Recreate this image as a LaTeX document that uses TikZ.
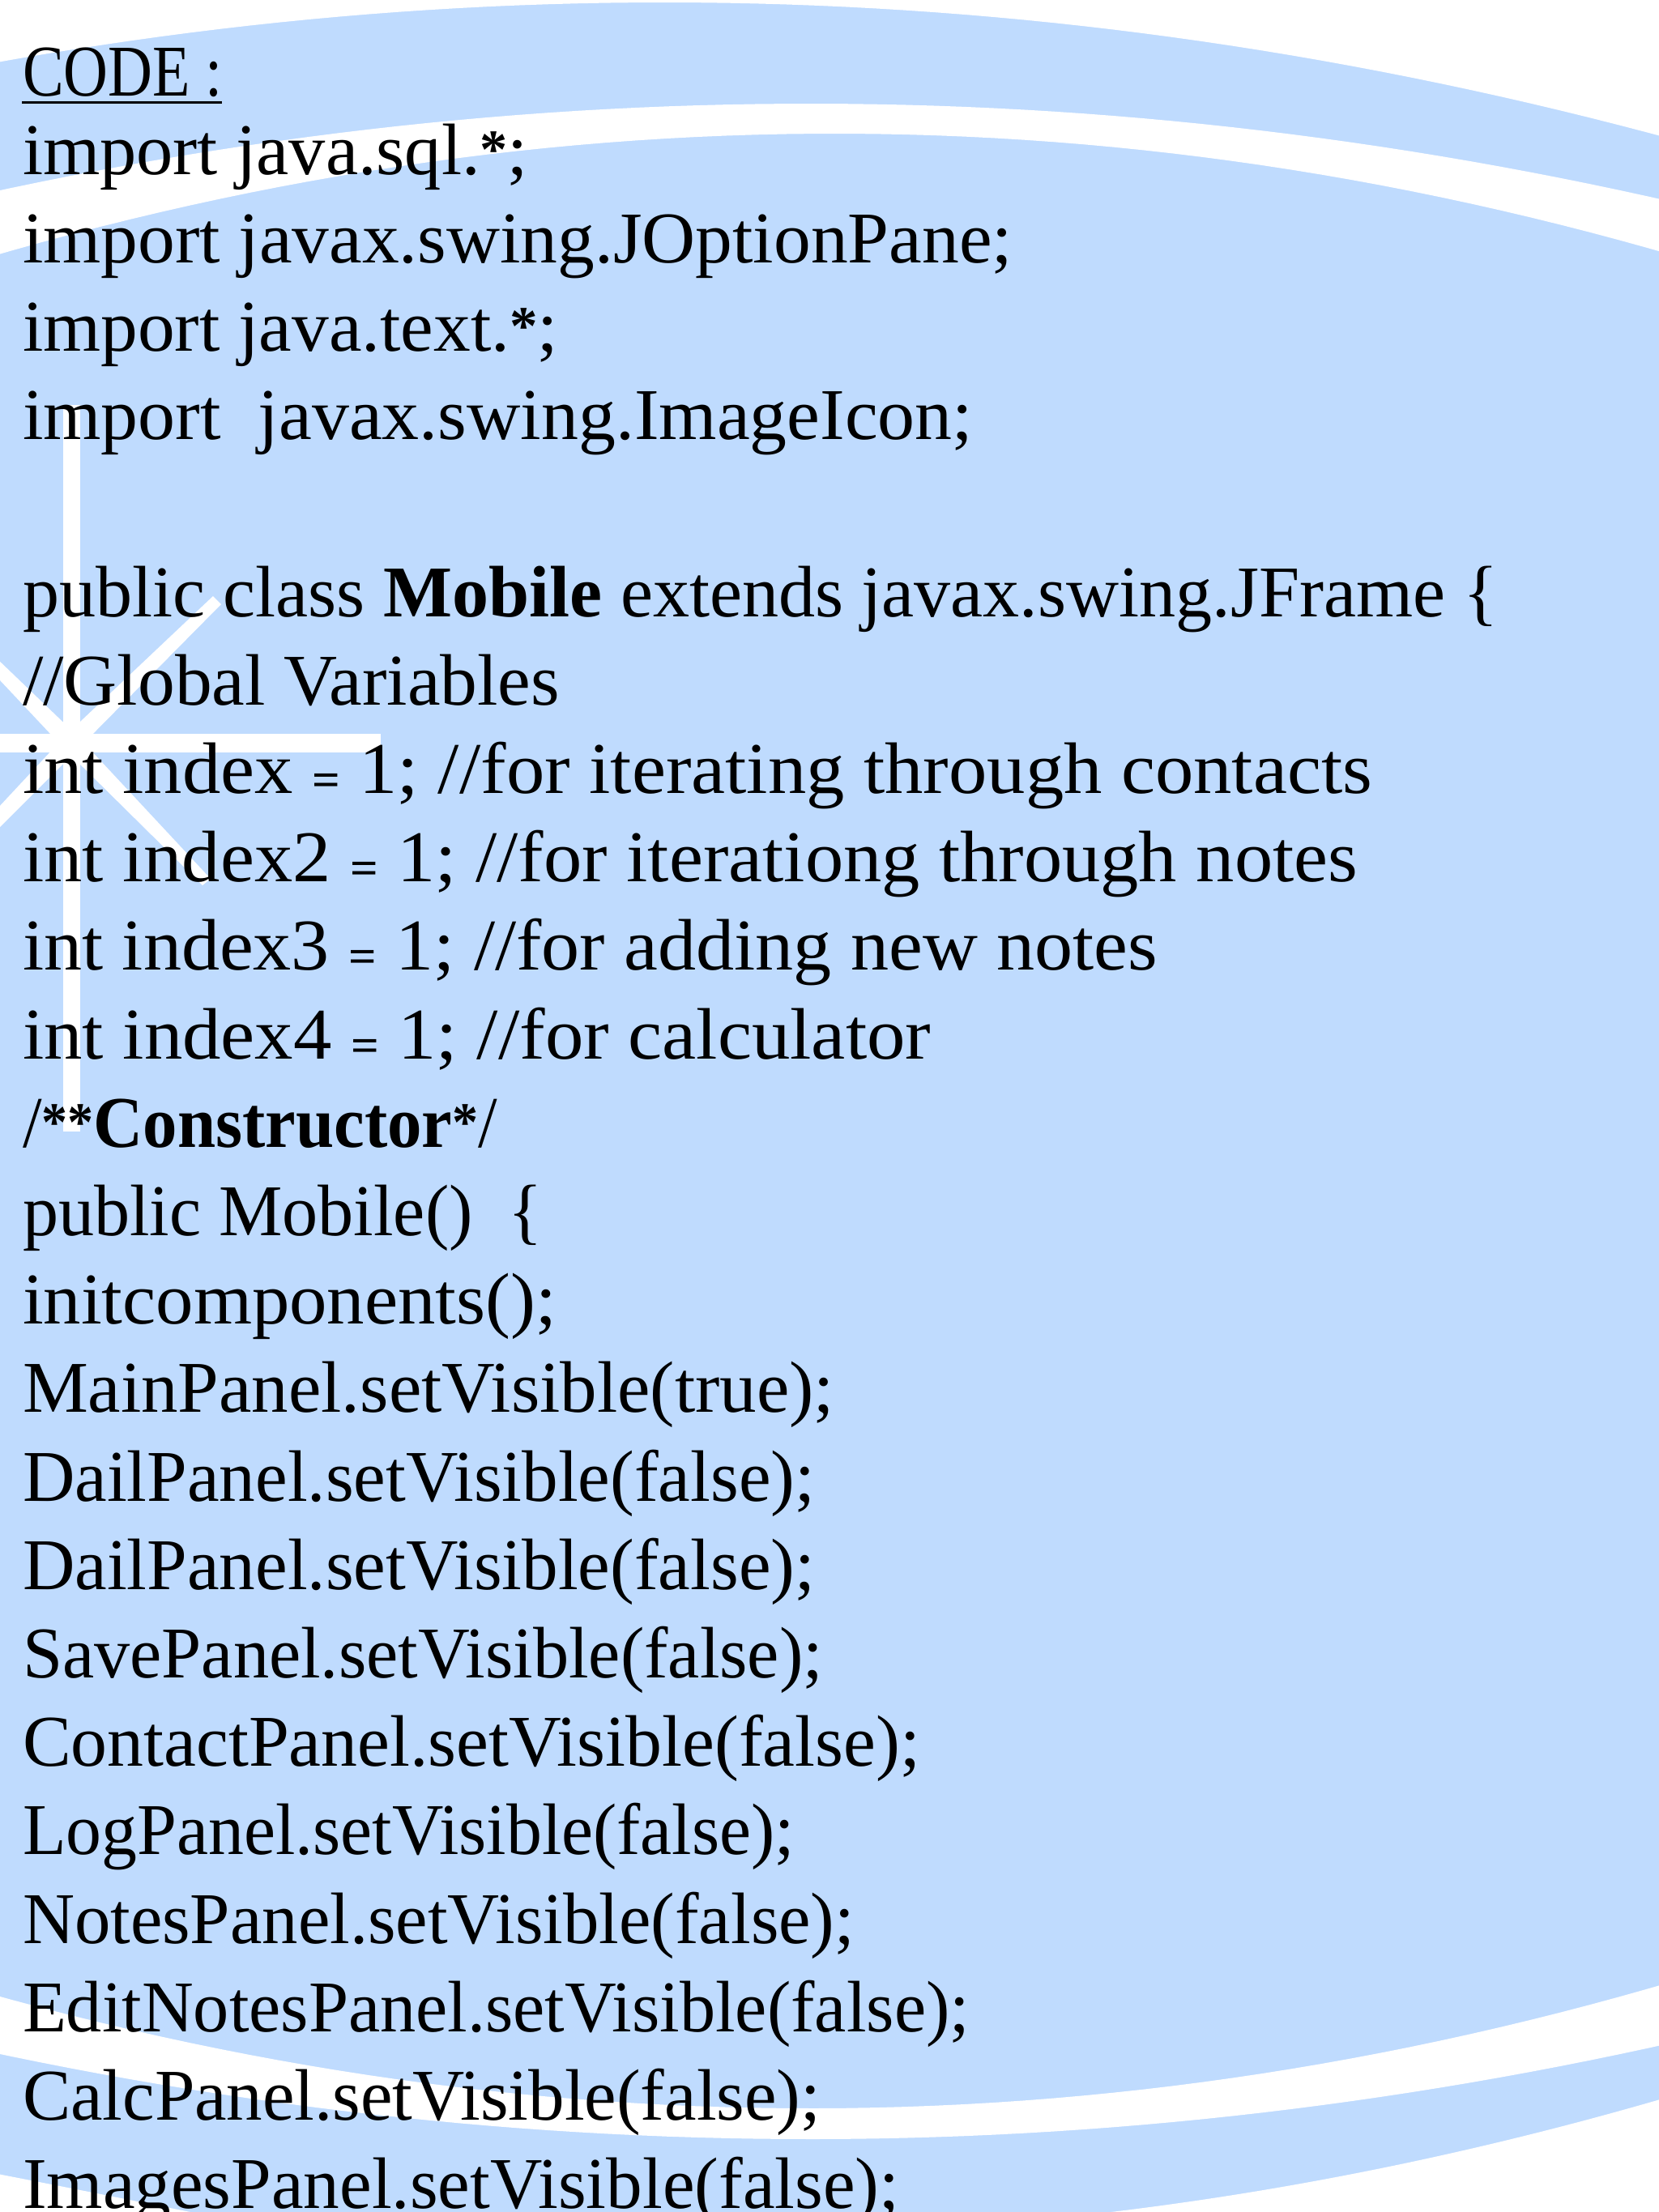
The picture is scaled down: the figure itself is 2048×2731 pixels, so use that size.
\documentclass[tikz,border=0pt]{standalone}
\usepackage{graphicx}
\usepackage{fontspec}
\setmainfont{Liberation Serif}
\definecolor{skyblue}{RGB}{191,219,254}
\newcommand{\eqs}{\raisebox{-3pt}{\fontsize{58}{58}\selectfont\bfseries =}}
\newcommand{\smallast}{\raisebox{8pt}{\fontsize{68}{68}\selectfont\bfseries *}}
\newcommand{\codeline}[4]{\node[codetext] (#1) at (28,#2) {\resizebox{#3pt}{\height}{#4}};}
\newcommand{\gapsp}{\hspace{0.5em}}
\begin{document}
\begin{tikzpicture}[x=1pt,y=-1pt,
  codetext/.style={anchor=base west,inner sep=0pt,outer sep=0pt,text=black,font=\fontsize{90}{90}\selectfont},
  starray/.style={fill=white,draw=none},
  curve/.style={domain=-60:2110,samples=60}]
\useasboundingbox (0,0) rectangle (2048,2731);
% blue ground
\fill[skyblue] (0,0) rectangle (2048,2731);
% white cap above the top arc
\fill[white] plot[curve] (\x,{3+1.09*((\x-820)/100)^2}) -- (2110,-10) -- (-60,-10) -- cycle;
% upper white band
\fill[white] plot[curve] (\x,{128+1.07*((\x-1000)/100)^2})
  -- plot[curve,domain=2110:-60] (\x,{165+1.4*((\x-1030)/100)^2}) -- cycle;
% lower white band
\fill[white] plot[curve] (\x,{2603-1.38*((\x-1000)/100)^2})
  -- plot[curve,domain=2110:-60] (\x,{2641-1.05*((\x-1000)/100)^2}) -- cycle;
% white corners at the foot
\fill[white] plot[curve,domain=1300:2110] (\x,{2760-1.25*((\x-890)/100)^2}) -- (2110,2750) -- (1300,2750) -- cycle;
\fill[white] (-60,2673) .. controls (60,2696) and (150,2714) .. (235,2731) -- (235,2750) -- (-60,2750) -- cycle;
% star
\fill[starray] (-10,906) -- (470,906) -- (470,929) -- (-10,929) -- cycle;
\fill[starray] (78,500) -- (99,500) -- (99,1397) -- (78,1397) -- cycle;
\fill[starray] (263,736) -- (273,746) -- (96,925) -- (80,909) -- cycle;
\fill[starray] (250,1093) -- (260,1085) -- (96,909) -- (80,925) -- cycle;
\fill[starray] (-30,788) -- (-30,808) -- (80,925) -- (96,909) -- cycle;
\fill[starray] (-30,1027) -- (-30,1051) -- (96,925) -- (80,909) -- cycle;
% text
\codeline{t0}{118}{247}{CODE :}
\draw[line width=3.4pt,black] (t0.base west)++(-1,8.5) -- ++(247,0);
\codeline{t1}{215}{624}{import java.sql.\smallast;}
\codeline{t2}{324.2}{1222}{import javax.swing.JOptionPane;}
\codeline{t3}{433.4}{661}{import java.text.\smallast;}
\codeline{t4}{542.6}{1173}{import\gapsp javax.swing.ImageIcon;}
\codeline{t6}{761}{1822}{public class \textbf{Mobile} extends javax.swing.JFrame \{}
\codeline{t7}{870.2}{663}{//Global Variables}
\codeline{t8}{979.4}{1666}{int index \eqs{} 1; //for iterating through contacts}
\codeline{t9}{1088.6}{1648}{int index2 \eqs{} 1; //for iterationg through notes}
\codeline{t10}{1197.8}{1401}{int index3 \eqs{} 1; //for adding new notes}
\codeline{t11}{1307}{1121}{int index4 \eqs{} 1; //for calculator}
\codeline{t12}{1416.2}{586}{/\smallast\smallast\textbf{Constructor}\smallast/}
\codeline{t13}{1525.4}{642}{public Mobile()\gapsp \{}
\codeline{t14}{1634.6}{659}{initcomponents();}
\codeline{t15}{1743.8}{1002}{MainPanel.setVisible(true);}
\codeline{t16}{1853}{978}{DailPanel.setVisible(false);}
\codeline{t17}{1962.2}{978}{DailPanel.setVisible(false);}
\codeline{t18}{2071.4}{988}{SavePanel.setVisible(false);}
\codeline{t19}{2180.6}{1108}{ContactPanel.setVisible(false);}
\codeline{t20}{2289.8}{953}{LogPanel.setVisible(false);}
\codeline{t21}{2399}{1027}{NotesPanel.setVisible(false);}
\codeline{t22}{2508.2}{1169}{EditNotesPanel.setVisible(false);}
\codeline{t23}{2617.4}{985}{CalcPanel.setVisible(false);}
\codeline{t24}{2726.6}{1082}{ImagesPanel.setVisible(false);}
\end{tikzpicture}
\end{document}
